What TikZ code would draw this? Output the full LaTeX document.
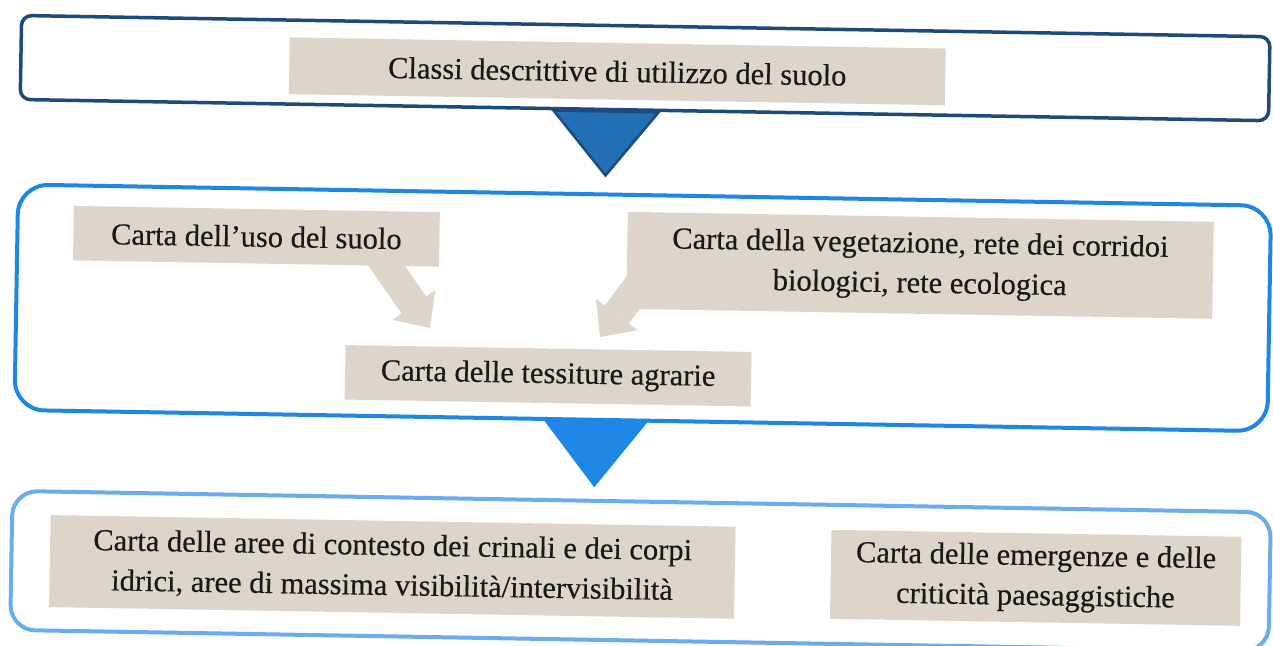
\documentclass[tikz,border=0pt]{standalone}
\usepackage{fontspec}
\setmainfont{Liberation Serif}[FakeBold=0.4]
\usetikzlibrary{arrows.meta,calc,backgrounds}
\definecolor{darkblue}{RGB}{28,74,122}
\definecolor{midblue}{RGB}{30,134,228}
\definecolor{lightblue}{RGB}{106,172,236}
\definecolor{triblue}{RGB}{34,111,181}
\definecolor{beige}{RGB}{221,213,201}
\definecolor{inkc}{RGB}{25,25,25}
\tikzset{
  stagebox/.style={draw, inner sep=0pt, rounded corners=#1},
  lbl/.style={fill=beige, inner sep=0pt, align=center, text=inkc,
    font=\fontsize{30.5}{40}\selectfont},
  blockarrow/.style={draw=beige, line width=30pt,
    -{Triangle[length=28pt,width=52pt,line width=0pt]}}
}
\begin{document}
\begin{tikzpicture}[x=1pt,y=-1pt]
\useasboundingbox (0,0) rectangle (1273,645);
\begin{scope}[on background layer]
  \fill[white] (0,0) rectangle (1273,645);
\end{scope}
\begin{scope}[rotate around={-0.974:(636.5,322.5)}, transform shape]
  % stage containers
  \node[stagebox=10pt, draw=darkblue, line width=3.5pt,
        minimum width=1248.5pt, minimum height=84pt] (s1) at (640.75,68) {};
  \node[stagebox=30pt, draw=midblue, line width=4pt,
        minimum width=1253pt, minimum height=225.5pt] (s2) at (642.5,307.75) {};
  \node[stagebox=25pt, draw=lightblue, line width=4pt,
        minimum width=1258.5pt, minimum height=139pt] (s3) at (644.75,571) {};
  % stage triangles
  \filldraw[fill=triblue, draw=darkblue, line width=2.5pt]
    (550,112) -- (655,112) -- (603,176) -- cycle;
  \fill[midblue] (545,421) -- (650,421) -- (597,488) -- cycle;
  % labels
  \node[lbl, minimum width=656pt, minimum height=56.7pt] (classi) at (613,71.7)
    {Classi descrittive di utilizzo del suolo};
  \node[lbl, minimum width=366pt, minimum height=54.5pt] (uso) at (255,242.75)
    {Carta dell’uso del suolo};
  \node[lbl, minimum width=586pt, minimum height=97pt] (veg) at (919,260.5)
    {Carta della vegetazione, rete dei corridoi\\biologici, rete ecologica};
  \node[lbl, minimum width=406pt, minimum height=54.5pt] (tess) at (549,377.25)
    {Carta delle tessiture agrarie};
  \node[lbl, minimum width=685pt, minimum height=92pt] (aree) at (396.5,571)
    {Carta delle aree di contesto dei crinali e dei corpi\\idrici, aree di massima visibilità/intervisibilità};
  \node[lbl, minimum width=410pt, minimum height=89pt] (emerg) at (1040,571)
    {Carta delle emergenze e delle\\criticità paesaggistiche};
  % block arrows
  \coordinate (a1e) at (430,331.5);
  \coordinate (a2e) at (600.3,337.6);
  \coordinate (u1) at ($(uso.south west)!0.857!(uso.south east)$);
  \coordinate (u2) at ($(veg.south west)!0.07!(veg.north west)$);
  \begin{scope}[on background layer]
    \draw[blockarrow] ($(a1e)!1.3!(u1)$) -- (a1e);
    \draw[blockarrow] ($(a2e)!1.6!(u2)$) -- (a2e);
  \end{scope}
\end{scope}
\end{tikzpicture}
\end{document}
